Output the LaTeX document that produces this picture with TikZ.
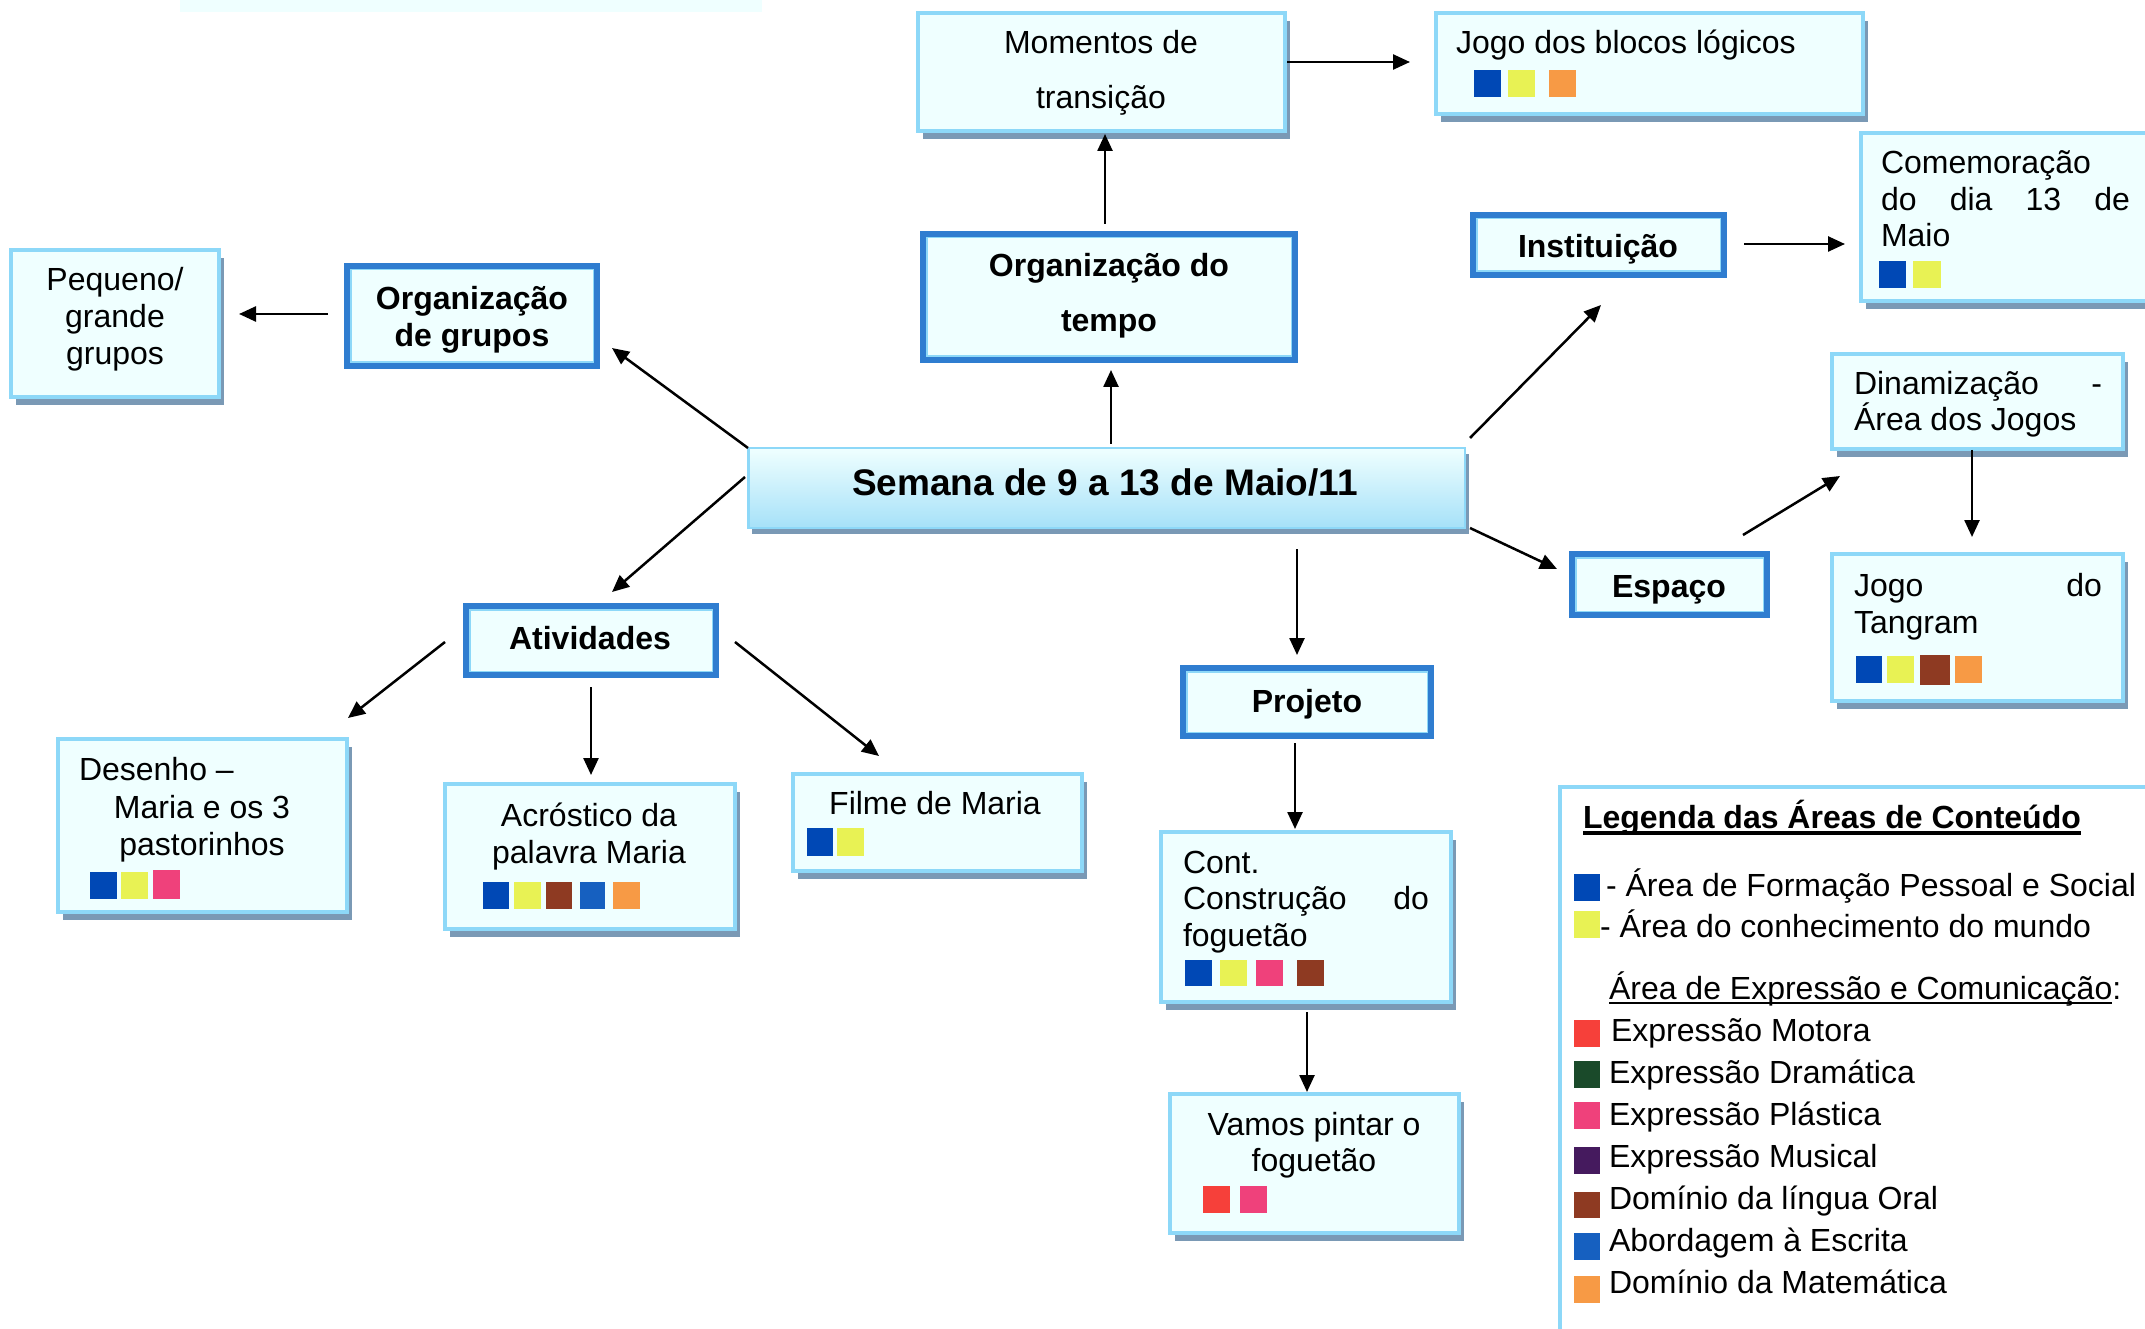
\documentclass[tikz,border=0pt]{standalone}
\usepackage{fontspec}
\setmainfont{Liberation Sans}
\usetikzlibrary{arrows.meta,shadows}
\definecolor{boxfill}{RGB}{239,255,255}
\definecolor{lightborder}{RGB}{141,216,248}
\definecolor{shadowc}{RGB}{122,153,181}
\definecolor{thickblue}{RGB}{47,125,208}
\definecolor{semblue}{RGB}{166,225,248}
\definecolor{cBlue}{RGB}{0,72,181}
\definecolor{cYellow}{RGB}{232,242,84}
\definecolor{cOrange}{RGB}{247,154,69}
\definecolor{cPink}{RGB}{239,65,123}
\definecolor{cBrown}{RGB}{142,58,34}
\definecolor{cMidBlue}{RGB}{22,96,192}
\definecolor{cRed}{RGB}{246,64,58}
\definecolor{cGreen}{RGB}{26,74,42}
\definecolor{cPurple}{RGB}{69,26,94}
\newcommand\nf{\fontsize{32}{37}\selectfont}
\newcommand\lbx[5]{%
  \pgfmathsetmacro\bxw{#4-#2-4}\pgfmathsetmacro\bxh{#5-#3-4}%
  \node[lbox, minimum width=\bxw pt, minimum height=\bxh pt] (#1) at ({(#2+#4)/2},{(#3+#5)/2}) {};}
\newcommand\tbx[5]{%
  \pgfmathsetmacro\bxw{#4-#2-6}\pgfmathsetmacro\bxh{#5-#3-6}%
  \node[tbox, minimum width=\bxw pt, minimum height=\bxh pt] (#1) at ({(#2+#4)/2},{(#3+#5)/2}) {};
  \draw[lightborder, line width=1.5pt] ([shift={(3.75,3.75)}]#1.north west) rectangle ([shift={(-3.75,-3.75)}]#1.south east);}
\newcommand\sq[5]{\fill[#1] (#2,#3) rectangle (#4,#5);}
\tikzset{
  lbox/.style={draw=lightborder, line width=4pt, fill=boxfill, inner sep=0pt, outer sep=0pt,
    general shadow={fill=shadowc, shadow xshift=5pt, shadow yshift=-8pt}},
  tbox/.style={draw=thickblue, line width=6pt, fill=boxfill, inner sep=0pt, outer sep=0pt},
  sembox/.style={draw=lightborder, line width=2.5pt, top color=boxfill, bottom color=semblue,
    inner sep=0pt, outer sep=0pt, general shadow={fill=shadowc, shadow xshift=4pt, shadow yshift=-6pt}},
  txt/.style={inner sep=0pt, outer sep=0pt, font=\nf},
  btxt/.style={inner sep=0pt, outer sep=0pt, font=\nf\bfseries},
  arr/.style={line width=2.5pt, -{Triangle[length=17pt,width=15pt]}}
}
\begin{document}
\begin{tikzpicture}[x=1pt,y=-1pt]
\useasboundingbox (0,0) rectangle (2145,1329);
\clip (0,0) rectangle (2145,1329);
\fill[white] (0,0) rectangle (2145,1329);
% faint strip at top
\fill[boxfill] (180,0) rectangle (762,12);

% boxes
\lbx{mom}{916}{11}{1287}{133}
\lbx{jogo}{1434}{11}{1865}{116}
\tbx{ot}{920}{231}{1298}{363}
\tbx{og}{344}{263}{600}{369}
\lbx{peq}{9}{248}{221}{399}
\node[sembox, minimum width=716.5pt, minimum height=79.5pt] (sem) at (1106.5,488) {};
\tbx{inst}{1470}{212}{1727}{278}
\lbx{com}{1859}{131}{2170}{303}
\lbx{din}{1830}{352}{2125}{451}
\tbx{esp}{1569}{551}{1770}{618}
\lbx{tan}{1830}{552}{2125}{703}
\tbx{ativ}{463}{603}{719}{678}
\lbx{des}{56}{737}{349}{914}
\lbx{acr}{443}{782}{737}{931}
\lbx{fil}{791}{772}{1084}{873}
\tbx{proj}{1180}{665}{1434}{739}
\lbx{cont}{1159}{830}{1453}{1004}
\lbx{vam}{1168}{1092}{1461}{1235}
\node[draw=lightborder, line width=4pt, fill=white, inner sep=0pt, outer sep=0pt,
  minimum width=620pt, minimum height=580pt, anchor=north west] (leg) at (1560,787) {};

% texts
\node[txt, anchor=base] (tmom1) at (1101,54) {Momentos de};
\node[txt, anchor=base] (tmom2) at (1101,109) {transição};
\node[txt, anchor=base west] (tjogo) at (1456,54) {Jogo dos blocos lógicos};
\node[btxt, anchor=base] (tot1) at (1109,277) {Organização do};
\node[btxt, anchor=base] (tot2) at (1109,332) {tempo};
\node[btxt, anchor=base] (tog1) at (472,310) {Organização};
\node[btxt, anchor=base] (tog2) at (472,347) {de grupos};
\node[txt, anchor=base] (tpeq1) at (115,291) {Pequeno/};
\node[txt, anchor=base] (tpeq2) at (115,328) {grande};
\node[txt, anchor=base] (tpeq3) at (115,365) {grupos};
\node[inner sep=0pt, font=\fontsize{37}{42}\selectfont\bfseries, anchor=base] (tsem) at (1105,495) {Semana de 9 a 13 de Maio/11};
\node[btxt, anchor=base] (tinst) at (1598,258) {Instituição};
\node[txt, anchor=base west] (tcom1) at (1881,174) {Comemoração};
\node[txt, anchor=base west] (tcom2) at (1881,211) {\makebox[249pt][s]{do dia 13 de}};
\node[txt, anchor=base west] (tcom3) at (1881,247) {Maio};
\node[txt, anchor=base west] (tdin1) at (1854,395) {\makebox[248pt][s]{Dinamização -}};
\node[txt, anchor=base west] (tdin2) at (1854,431) {Área dos Jogos};
\node[btxt, anchor=base] (tesp) at (1669,597) {Espaço};
\node[txt, anchor=base west] (ttan1) at (1854,596) {\makebox[248pt][s]{Jogo do}};
\node[txt, anchor=base west] (ttan2) at (1854,633) {Tangram};
\node[btxt, anchor=base] (tativ) at (590,649) {Atividades};
\node[txt, anchor=base west] (tdes1) at (79,780) {Desenho –};
\node[txt, anchor=base] (tdes2) at (202,818) {Maria e os 3};
\node[txt, anchor=base] (tdes3) at (202,855) {pastorinhos};
\node[txt, anchor=base] (tacr1) at (589,826) {Acróstico da};
\node[txt, anchor=base] (tacr2) at (589,863) {palavra Maria};
\node[txt, anchor=base] (tfil) at (935,814) {Filme de Maria};
\node[btxt, anchor=base] (tproj) at (1307,712) {Projeto};
\node[txt, anchor=base west] (tcont1) at (1183,873) {Cont.};
\node[txt, anchor=base west] (tcont2) at (1183,909) {\makebox[246pt][s]{Construção do}};
\node[txt, anchor=base west] (tcont3) at (1183,946) {foguetão};
\node[txt, anchor=base] (tvam1) at (1314,1135) {Vamos pintar o};
\node[txt, anchor=base] (tvam2) at (1314,1171) {foguetão};

% colour squares
\sq{cBlue}{1474}{70}{1501}{97}\sq{cYellow}{1508}{70}{1535}{97}\sq{cOrange}{1549}{70}{1576}{97}
\sq{cBlue}{1879}{261}{1906}{288}\sq{cYellow}{1913}{261}{1941}{288}
\sq{cBlue}{1856}{656}{1882}{683}\sq{cYellow}{1887}{656}{1914}{683}\sq{cBrown}{1920}{655}{1950}{685}\sq{cOrange}{1955}{656}{1982}{683}
\sq{cBlue}{90}{872}{117}{899}\sq{cYellow}{121}{872}{148}{899}\sq{cPink}{153}{870}{180}{899}
\sq{cBlue}{483}{882}{509}{909}\sq{cYellow}{514}{882}{541}{909}\sq{cBrown}{546}{882}{572}{909}\sq{cMidBlue}{580}{882}{605}{909}\sq{cOrange}{613}{882}{640}{909}
\sq{cBlue}{807}{828}{833}{856}\sq{cYellow}{837}{828}{864}{856}
\sq{cBlue}{1185}{960}{1212}{986}\sq{cYellow}{1220}{960}{1247}{986}\sq{cPink}{1256}{960}{1283}{986}\sq{cBrown}{1297}{960}{1324}{986}
\sq{cRed}{1203}{1186}{1230}{1213}\sq{cPink}{1240}{1186}{1267}{1213}

% legend
\node[btxt, anchor=base west] (ltitle) at (1583,828) {Legenda das Áreas de Conteúdo};
\draw[line width=3.5pt] ([yshift=-5pt]ltitle.base west) -- ([yshift=-5pt]ltitle.base east);
\sq{cBlue}{1574}{874}{1600}{901}
\node[txt, anchor=base west] (l1) at (1606,896) {- Área de Formação Pessoal e Social};
\sq{cYellow}{1574}{911}{1600}{938}
\node[txt, anchor=base west] (l2) at (1600,937) {- Área do conhecimento do mundo};
\node[txt, anchor=base west] (l3) at (1609,999) {Área de Expressão e Comunicação};
\node[txt, anchor=base west] (l3c) at (l3.base east) {:};
\draw[line width=2.5pt] ([yshift=-4pt]l3.base west) -- ([yshift=-4pt]l3.base east);
\sq{cRed}{1574}{1020}{1600}{1047}
\node[txt, anchor=base west] (l4) at (1611,1041) {Expressão Motora};
\sq{cGreen}{1574}{1061}{1600}{1088}
\node[txt, anchor=base west] (l5) at (1609,1083) {Expressão Dramática};
\sq{cPink}{1574}{1102}{1600}{1129}
\node[txt, anchor=base west] (l6) at (1609,1125) {Expressão Plástica};
\sq{cPurple}{1574}{1147}{1600}{1174}
\node[txt, anchor=base west] (l7) at (1609,1167) {Expressão Musical};
\sq{cBrown}{1574}{1192}{1600}{1218}
\node[txt, anchor=base west] (l8) at (1609,1209) {Domínio da língua Oral};
\sq{cMidBlue}{1574}{1233}{1600}{1260}
\node[txt, anchor=base west] (l9) at (1609,1251) {Abordagem à Escrita};
\sq{cOrange}{1574}{1276}{1600}{1303}
\node[txt, anchor=base west] (l10) at (1609,1293) {Domínio da Matemática};

% connector end points
\coordinate (a1s) at (1287,62);   \coordinate (a1e) at (1410,62);
\coordinate (a2s) at (1105,224);  \coordinate (a2e) at (1105,134);
\coordinate (a3s) at (1111,444);  \coordinate (a3e) at (1111,370);
\coordinate (a4s) at (748,448);   \coordinate (a4e) at (612,348);
\coordinate (a5s) at (328,314);   \coordinate (a5e) at (239,314);
\coordinate (a6s) at (745,477);   \coordinate (a6e) at (612,592);
\coordinate (a7s) at (445,642);   \coordinate (a7e) at (348,718);
\coordinate (a8s) at (591,687);   \coordinate (a8e) at (591,775);
\coordinate (a9s) at (735,642);   \coordinate (a9e) at (879,756);
\coordinate (a10s) at (1297,549); \coordinate (a10e) at (1297,655);
\coordinate (a11s) at (1295,743); \coordinate (a11e) at (1295,829);
\coordinate (a12s) at (1307,1012);\coordinate (a12e) at (1307,1092);
\coordinate (a13s) at (1470,438); \coordinate (a13e) at (1601,305);
\coordinate (a14s) at (1744,244); \coordinate (a14e) at (1845,244);
\coordinate (a15s) at (1470,528); \coordinate (a15e) at (1557,569);
\coordinate (a16s) at (1743,535); \coordinate (a16e) at (1840,476);
\coordinate (a17s) at (1972,450); \coordinate (a17e) at (1972,537);
\foreach \i in {1,...,17} \draw[arr] (a\i s) -- (a\i e);
\end{tikzpicture}
\end{document}
